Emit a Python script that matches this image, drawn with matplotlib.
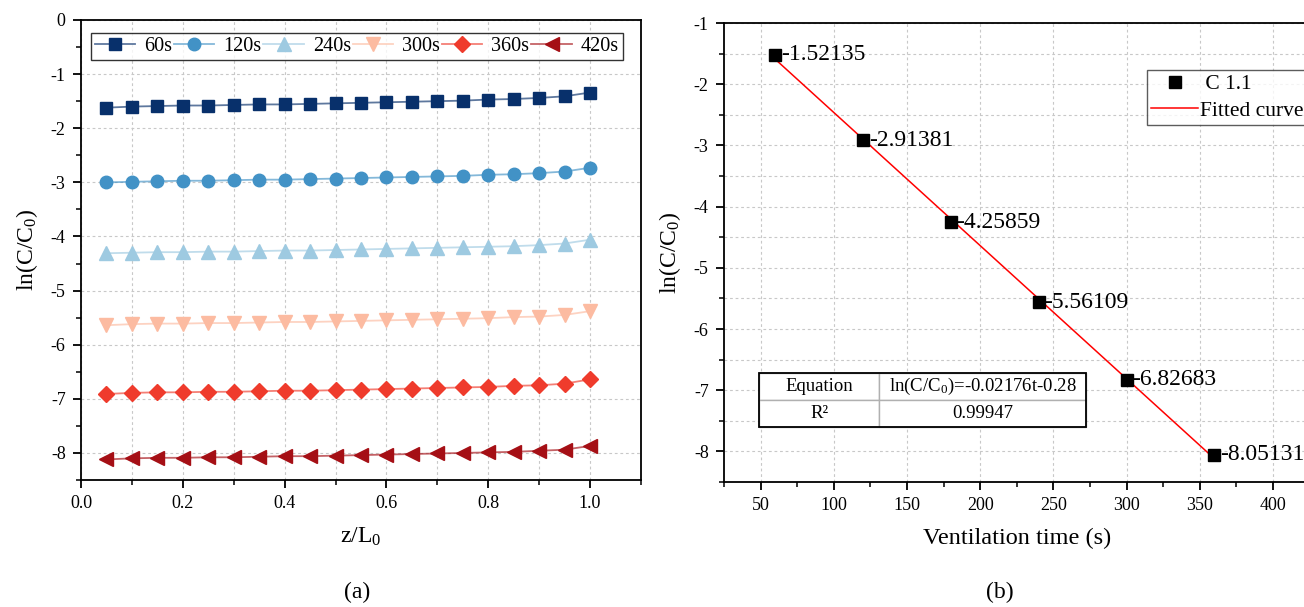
import numpy as np
import matplotlib
matplotlib.use('Agg')
import matplotlib.pyplot as plt
from matplotlib.ticker import MultipleLocator
from matplotlib.patches import Rectangle
from matplotlib.lines import Line2D

plt.rcParams['font.family'] = ['Liberation Serif', 'DejaVu Serif']
plt.rcParams['mathtext.fontset'] = 'custom'
plt.rcParams['mathtext.rm'] = 'Liberation Serif'
plt.rcParams['mathtext.it'] = 'Liberation Serif:italic'
plt.rcParams['axes.unicode_minus'] = False

# ---- panel (a) data: ln(C/C0) along z/L0 for each ventilation time
z = [0.05, 0.10, 0.15, 0.20, 0.25, 0.30, 0.35, 0.40, 0.45, 0.50,
     0.55, 0.60, 0.65, 0.70, 0.75, 0.80, 0.85, 0.90, 0.95, 1.00]
s60 = [-1.62, -1.60, -1.59, -1.58, -1.58, -1.57, -1.56, -1.56, -1.55, -1.54,
       -1.53, -1.52, -1.51, -1.50, -1.49, -1.47, -1.46, -1.44, -1.41, -1.34]
s120 = [-3.00, -2.99, -2.98, -2.97, -2.97, -2.96, -2.95, -2.95, -2.94, -2.93,
        -2.92, -2.91, -2.90, -2.89, -2.88, -2.86, -2.85, -2.83, -2.80, -2.73]
s240 = [-4.31, -4.30, -4.29, -4.29, -4.28, -4.28, -4.27, -4.26, -4.26, -4.25,
        -4.24, -4.23, -4.22, -4.21, -4.20, -4.19, -4.18, -4.16, -4.13, -4.06]
s300 = [-5.64, -5.62, -5.61, -5.61, -5.60, -5.60, -5.59, -5.58, -5.58, -5.57,
        -5.56, -5.55, -5.54, -5.53, -5.52, -5.51, -5.49, -5.48, -5.45, -5.38]
s360 = [-6.91, -6.89, -6.88, -6.88, -6.87, -6.87, -6.86, -6.85, -6.85, -6.84,
        -6.83, -6.82, -6.81, -6.80, -6.79, -6.78, -6.76, -6.75, -6.72, -6.64]
s420 = [-8.12, -8.10, -8.09, -8.09, -8.08, -8.08, -8.07, -8.06, -8.06, -8.05,
        -8.04, -8.03, -8.02, -8.01, -8.00, -7.99, -7.98, -7.96, -7.94, -7.87]
labels_a = ['60s', '120s', '240s', '300s', '360s', '420s']

# ---- panel (b) data
t = [60, 120, 180, 240, 300, 360]
lnc = [-1.52135, -2.91381, -4.25859, -5.56109, -6.82683, -8.05131]
eq_text = 'ln(C/C$_0$)=-0.02176t-0.28'
r2_text = '0.99947'

series = [s60, s120, s240, s300, s360, s420]
colors = ['#08306b', '#4292c6', '#9ecae1', '#fcbba1', '#ef3b2c', '#a50f15']
markers = ['s', 'o', '^', 'v', 'D', '<']
msizes = [8, 9, 10, 10, 8, 10]

fig = plt.figure(figsize=(13.04, 6.07), dpi=100)
ax1 = fig.add_axes([81/1304, 127/607, 560/1304, 460/607])
ax2 = fig.add_axes([724/1304, 125/607, 585.6/1304, 459/607])

grid_kw = dict(color='#c8c8c8', linestyle=(0, (2.5, 2.5)), linewidth=0.8)

def style_axes(ax):
    for sp in ax.spines.values():
        sp.set_linewidth(1.3)
        sp.set_color('black')
    ax.tick_params(which='major', direction='out', length=6, width=1.3,
                   labelsize=13, top=False, right=False, pad=5)
    ax.tick_params(which='minor', direction='out', length=3.5, width=1.1,
                   top=False, right=False)
    ax.set_axisbelow(True)

# ---------------- (a)
for ys, c, m, ms, lab in zip(series, colors, markers, msizes, labels_a):
    rgba = matplotlib.colors.to_rgba(c, 0.65)
    ax1.plot(z, ys, color=rgba, lw=1.3, marker=m, markersize=ms,
             markerfacecolor=c, markeredgecolor=c, label=lab)
ax1.set_xlim(0, 1.1)
ax1.set_ylim(-8.5, 0)
ax1.xaxis.set_major_locator(MultipleLocator(0.2))
ax1.xaxis.set_minor_locator(MultipleLocator(0.1))
ax1.yaxis.set_major_locator(MultipleLocator(1))
ax1.yaxis.set_minor_locator(MultipleLocator(0.5))
ax1.grid(True, which='minor', axis='x', **grid_kw)
ax1.grid(True, which='major', axis='x', **grid_kw)
ax1.grid(True, which='major', axis='y', **grid_kw)
style_axes(ax1)
ax1.set_xlabel('z/L$_0$', fontsize=17, labelpad=10)
ax1.set_ylabel('ln(C/C$_0$)', fontsize=17, labelpad=8)
leg1 = ax1.legend(loc='upper left', bbox_to_anchor=(0.017, 0.971), ncol=6,
                  fontsize=14.5, frameon=True, fancybox=False, borderaxespad=0,
                  borderpad=0.2, handlelength=2.0, handletextpad=0.45,
                  columnspacing=0.1)
leg1.get_frame().set_edgecolor('black')
leg1.get_frame().set_linewidth(1.0)

# ---------------- (b)
slope, intercept = np.polyfit(t, lnc, 1)
tt = np.array([t[0], t[-1]])
ax2.plot(tt, slope * tt + intercept, color='red', lw=1.1, label='Fitted curve', zorder=3)
ax2.plot(t, lnc, linestyle='none', marker='s', markersize=8, color='black',
         label=' C 1.1', zorder=4)
for xv, yv in zip(t, lnc):
    ax2.annotate('%.5f' % yv, (xv, yv), xytext=(4, 0), textcoords='offset points',
                 ha='left', va='center', fontsize=17)
ax2.set_xlim(25, 425)
ax2.set_ylim(-8.5, -1)
ax2.xaxis.set_major_locator(MultipleLocator(50))
ax2.xaxis.set_minor_locator(MultipleLocator(25))
ax2.yaxis.set_major_locator(MultipleLocator(1))
ax2.yaxis.set_minor_locator(MultipleLocator(0.5))
ax2.grid(True, which='major', axis='x', **grid_kw)
ax2.grid(True, which='both', axis='y', **grid_kw)
style_axes(ax2)
ax2.set_xlabel('Ventilation time (s)', fontsize=17.5, labelpad=10)
ax2.set_ylabel('ln(C/C$_0$)', fontsize=17, labelpad=8)

handles = [Line2D([], [], linestyle='none', marker='s', markersize=8, color='black'),
           Line2D([], [], color='red', lw=1.1)]
leg2 = ax2.legend(handles, [' C 1.1', 'Fitted curve'], loc='upper left',
                  bbox_to_anchor=(0.722, 0.898), fontsize=15.5, frameon=True,
                  fancybox=False, borderaxespad=0, borderpad=0.2,
                  handlelength=2.2, handletextpad=0.05, labelspacing=0.3)
leg2.get_frame().set_edgecolor('#333333')
leg2.get_frame().set_linewidth(1.0)

# fit result table
tab = ax2.table(cellText=[['Equation', eq_text], ['R²', r2_text]],
                cellLoc='center', colWidths=[0.366, 0.634],
                bbox=[0.0603, 0.119, 0.558, 0.1176], zorder=5)
tab.auto_set_font_size(False)
for cell in tab.get_celld().values():
    cell.set_edgecolor('#b0b0b0')
    cell.set_linewidth(1.0)
    cell.set_facecolor('white')
    cell.get_text().set_fontsize(13.5)
ax2.add_patch(Rectangle((0.0603, 0.119), 0.558, 0.1176, transform=ax2.transAxes,
                        fill=False, edgecolor='black', lw=1.3, zorder=6))

fig.text(357/1304, 1 - 592/607, '(a)', ha='center', va='center', fontsize=17)
fig.text(1000/1304, 1 - 592/607, '(b)', ha='center', va='center', fontsize=17)

fig.savefig('out.png', dpi=100)
